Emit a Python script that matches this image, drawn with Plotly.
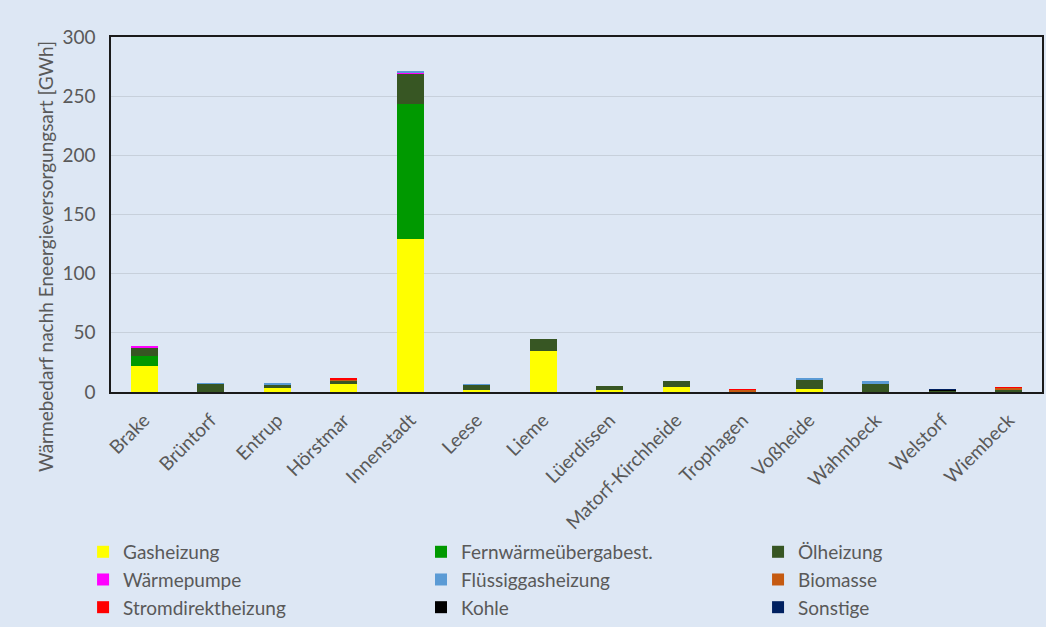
import plotly.graph_objects as go

categories = ["Brake", "Brüntorf", "Entrup", "Hörstmar", "Innenstadt", "Leese", "Lieme",
              "Lüerdissen", "Matorf-Kirchheide", "Trophagen", "Voßheide", "Wahmbeck",
              "Welstorf", "Wiembeck"]

gasheizung      = [21.7, 0.3, 3.6, 7.1, 129.0, 2.0, 34.7, 2.0, 4.2, 0.0, 2.9, 0.3, 0.0, 0.0]
fernwaerme      = [8.7, 0.0, 0.0, 0.0, 114.0, 0.0, 0.0, 0.0, 0.0, 0.0, 0.0, 0.0, 0.0, 0.0]
oelheizung      = [7.1, 6.5, 3.0, 2.8, 26.3, 4.3, 10.4, 3.4, 5.0, 0.6, 7.9, 6.7, 1.2, 2.5]
waermepumpe     = [1.5, 0.0, 0.0, 0.0, 0.3, 0.0, 0.0, 0.0, 0.0, 0.0, 0.0, 0.0, 0.0, 0.0]
fluessiggas     = [0.0, 0.8, 0.2, 0.0, 1.5, 0.2, 0.0, 0.0, 0.0, 0.0, 1.4, 2.0, 0.0, 0.0]
biomasse        = [0.0, 0.0, 0.0, 1.0, 0.0, 0.0, 0.0, 0.0, 0.0, 1.3, 0.0, 0.0, 0.0, 1.1]
stromdirekt     = [0.0, 0.0, 0.0, 0.4, 0.0, 0.0, 0.0, 0.0, 0.0, 0.2, 0.0, 0.0, 0.0, 0.6]
kohle           = [0.0, 0.0, 0.0, 0.0, 0.0, 0.0, 0.0, 0.0, 0.0, 0.0, 0.0, 0.0, 0.6, 0.0]
sonstige        = [0.0, 0.0, 0.0, 0.0, 0.0, 0.0, 0.0, 0.0, 0.0, 0.0, 0.0, 0.0, 0.2, 0.0]

series_names = ["Gasheizung", "Fernwärmeübergabest.", "Ölheizung", "Wärmepumpe",
                "Flüssiggasheizung", "Biomasse", "Stromdirektheizung", "Kohle", "Sonstige"]
series_values = [gasheizung, fernwaerme, oelheizung, waermepumpe, fluessiggas,
                 biomasse, stromdirekt, kohle, sonstige]
series_colors = ["#FFFF00", "#009900", "#375623", "#FF00FF", "#5B9BD5",
                 "#C55A11", "#FF0000", "#000000", "#002060"]

y_ticks = [0, 50, 100, 150, 200, 250, 300]

font_family = "Lato, 'Open Sans', sans-serif"
txt_color = "#595959"
bg = "#DDE7F4"
fs = 19

# legend columns: entry i goes to column i % 3 (row-major layout as in the reference)
legend_ids = ["legend", "legend2", "legend3"]

fig = go.Figure()
for i, (name, vals, col) in enumerate(zip(series_names, series_values, series_colors)):
    fig.add_trace(go.Bar(x=categories, y=vals, name=name, marker_color=col,
                         marker_line_width=0, legend=legend_ids[i % 3],
                         legendgroup=name))

legend_common = dict(
    orientation="v", yanchor="top", xanchor="left", y=-0.397,
    traceorder="normal", itemwidth=30, tracegroupgap=0,
    font=dict(size=fs, color=txt_color, family=font_family),
    bgcolor="rgba(0,0,0,0)",
)

fig.update_layout(
    barmode="stack",
    bargap=0.6,
    width=1046, height=627,
    margin=dict(l=111, r=4, t=37, b=235, autoexpand=False),
    paper_bgcolor=bg, plot_bgcolor=bg,
    font=dict(family=font_family, color=txt_color, size=fs),
    legend=dict(x=-0.03, **legend_common),
    legend2=dict(x=0.333, **legend_common),
    legend3=dict(x=0.695, **legend_common),
    showlegend=True,
)
fig.update_xaxes(
    tickangle=-45, showline=True, linecolor="#1a1a1a", linewidth=1.5, mirror=True,
    tickfont=dict(size=fs, color=txt_color), ticks="", ticklabelstandoff=8,
)
fig.update_yaxes(
    range=[0, 300], tickvals=y_ticks, showgrid=True, gridcolor="#C7D0DB", gridwidth=1,
    showline=True, linecolor="#1a1a1a", linewidth=1.5, mirror=True,
    tickfont=dict(size=fs, color=txt_color), ticks="", zeroline=False,
    ticklabelstandoff=10,
)
fig.add_annotation(
    text="Wärmebedarf nachh Eneergieversorgungsart [GWh]",
    xref="paper", yref="paper", x=-0.071, y=0.383, textangle=-90,
    xanchor="center", yanchor="middle",
    showarrow=False, font=dict(size=fs, color=txt_color),
)

fig.write_html("out.html")
